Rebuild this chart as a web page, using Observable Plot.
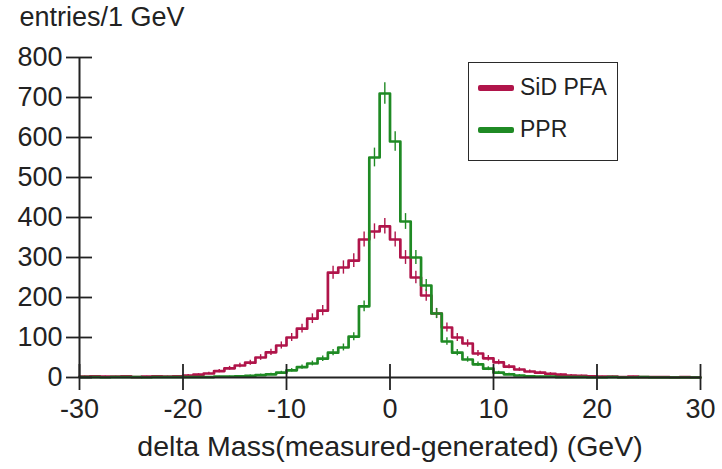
<!DOCTYPE html>
<html><head><meta charset="utf-8">
<script src="https://cdn.jsdelivr.net/npm/d3@7"></script>
<script src="https://cdn.jsdelivr.net/npm/@observablehq/plot@0.6"></script>
<style>
body{margin:0;background:#fff;}
#wrap{position:relative;width:722px;height:469px;font-family:"Liberation Sans",Arial,sans-serif;}
#legend{position:absolute;left:468px;top:62px;width:150px;height:99px;border:1.8px solid #2a2a2a;box-sizing:border-box;background:#fff}
.item{position:absolute;left:9px;display:flex;align-items:center;font-size:23px;color:#222;line-height:1}
.sw{width:36px;height:6px;margin-right:6px;border-radius:2px}
</style></head><body><div id="wrap"></div>
<script>
// ---- data ----
const seriesNames = ["SiD PFA", "PPR"];
const seriesColors = ["#b0144a", "#1f8a24"];
const binWidth = 1; // GeV
const binLow = d3.range(-30, 30, binWidth); // lower bin edges -30 .. 29
const sidPFA = [
  2, 3, 2, 2, 3, 1, 2, 3, 2, 3,               // -30 .. -21
  5, 7, 10, 16, 23, 30, 37, 50, 63, 80,       // -20 .. -11
  100, 122, 147, 167, 262, 275, 292, 345, 365, 378, // -10 .. -1
  345, 300, 250, 205, 160, 125, 100, 85, 60, 48,    // 0 .. 9
  38, 27, 20, 15, 12, 9, 7, 5, 4, 3,          // 10 .. 19
  2, 2, 1, 2, 1, 1, 1, 0, 1, 0                // 20 .. 29
];
const ppr = [
  1, 1, 0, 1, 1, 1, 0, 1, 1, 1,               // -30 .. -21
  1, 1, 1, 2, 2, 3, 4, 6, 8, 12,              // -20 .. -11
  18, 26, 35, 47, 62, 75, 102, 178, 550, 710, // -10 .. -1
  590, 390, 300, 230, 160, 90, 62, 45, 33, 22,// 0 .. 9
  12, 8, 5, 3, 2, 2, 1, 1, 1, 0,              // 10 .. 19
  0, 1, 0, 0, 1, 0, 0, 0, 0, 0                // 20 .. 29
];
const xTicks = [-30, -20, -10, 0, 10, 20, 30];
const yTicks = [0, 100, 200, 300, 400, 500, 600, 700, 800];
const xTitle = "delta Mass(measured-generated) (GeV)";
const yTitle = "entries/1 GeV";

// ---- build tables ----
const seriesValues = [sidPFA, ppr];
const steps = [];
const bins = [];
seriesNames.forEach((name, si) => {
  const vals = seriesValues[si];
  binLow.forEach((lo, i) => {
    steps.push({series: name, x: lo, y: vals[i]});
    bins.push({series: name, x: lo + binWidth / 2, y: vals[i]});
  });
  steps.push({series: name, x: binLow[binLow.length - 1] + binWidth, y: vals[binLow.length - 1]});
});

const font = '"Liberation Sans", Arial, sans-serif';
const fmt = d => `${d}`;
const chart = Plot.plot({
  width: 722, height: 469,
  marginLeft: 79, marginRight: 22, marginTop: 57, marginBottom: 92,
  x: {domain: [-30, 30]},
  y: {domain: [0, 800]},
  color: {domain: seriesNames, range: seriesColors},
  style: {fontFamily: font, color: "#222", background: "transparent", overflow: "visible"},
  marks: [
    Plot.ruleX(bins, {x: "x", y1: d => Math.max(0, d.y - Math.sqrt(d.y)), y2: d => d.y + Math.sqrt(d.y), stroke: "series", strokeWidth: 1.4}),
    Plot.line(steps, {x: "x", y: "y", z: "series", stroke: "series", curve: "step-after", strokeWidth: 2.7}),
    Plot.ruleY([0], {stroke: "#222", strokeWidth: 2}),
    Plot.ruleX([-30], {stroke: "#222", strokeWidth: 2}),
    Plot.axisY(yTicks, {tickSize: 26, dx: 13, tickPadding: 4, label: null, tickFormat: fmt, fontSize: 27, strokeWidth: 1.8}),
    Plot.axisX(xTicks, {tickSize: 26, dy: -13, tickPadding: 8, label: null, tickFormat: fmt, fontSize: 27, strokeWidth: 1.8}),
    Plot.text([xTitle], {frameAnchor: "bottom", lineAnchor: "middle", dy: 69, fontSize: 28.5, fill: "#222"}),
    Plot.text([yTitle], {frameAnchor: "top-left", lineAnchor: "middle", textAnchor: "start", dx: -60, dy: -40, fontSize: 27, fill: "#222"})
  ]
});
const wrap = document.getElementById("wrap");
wrap.appendChild(chart);
const legend = document.createElement("div");
legend.id = "legend";
seriesNames.forEach((name, i) => {
  const item = document.createElement("div");
  item.className = "item";
  item.style.top = (i === 0 ? 13 : 55) + "px";
  const sw = document.createElement("span");
  sw.className = "sw";
  sw.style.background = seriesColors[i];
  const label = document.createElement("span");
  label.textContent = name;
  item.appendChild(sw); item.appendChild(label);
  legend.appendChild(item);
});
wrap.appendChild(legend);
</script></body></html>
